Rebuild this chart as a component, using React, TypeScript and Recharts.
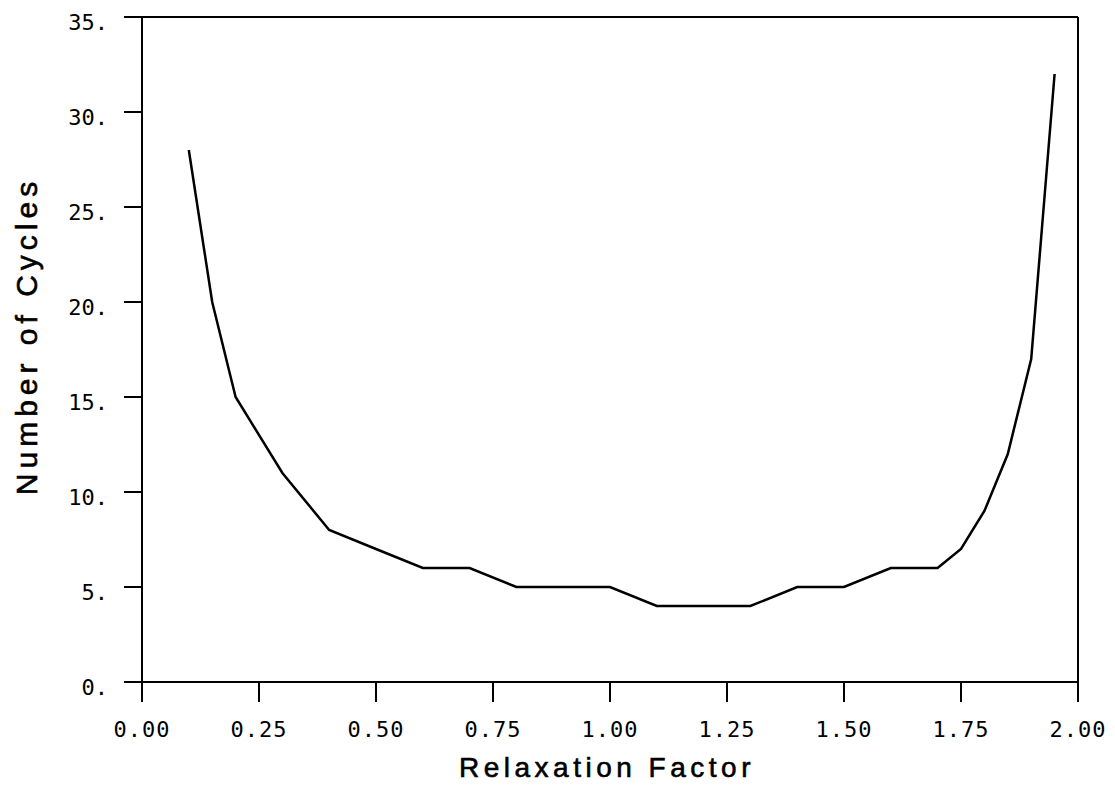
import React from 'react';
import { LineChart, Line, XAxis, YAxis, ReferenceLine, Label } from 'recharts';

const relaxationFactors = [0.1, 0.15, 0.2, 0.3, 0.4, 0.5, 0.6, 0.7, 0.8, 0.9, 1.0, 1.1, 1.2, 1.3, 1.4, 1.5, 1.6, 1.7, 1.75, 1.8, 1.85, 1.9, 1.95];
const cycles = [28, 20, 15, 11, 8, 7, 6, 6, 5, 5, 5, 4, 4, 4, 5, 5, 6, 6, 7, 9, 12, 17, 32];
const xTicks = [0, 0.25, 0.5, 0.75, 1.0, 1.25, 1.5, 1.75, 2.0];
const yTicks = [0, 5, 10, 15, 20, 25, 30, 35];

const data = relaxationFactors.map((x, i) => ({ x, y: cycles[i] }));

const tickFont = '"DejaVu Sans Mono", monospace';
const titleFont = '"Liberation Sans", Arial, sans-serif';

const XTick = (props: any) => {
  const { x, y, payload } = props;
  return (
    <text x={x} y={y + 33} textAnchor="middle" fontFamily={tickFont} fontSize={22} letterSpacing={1} fill="#000">
      {Number(payload.value).toFixed(2)}
    </text>
  );
};

const YTick = (props: any) => {
  const { x, y, payload } = props;
  return (
    <text x={x - 14} y={y + 13} textAnchor="end" fontFamily={tickFont} fontSize={22} fill="#000">
      {`${payload.value}.`}
    </text>
  );
};

export default function App() {
  return (
    <div style={{ position: 'absolute', left: 0, top: 0, background: '#fff' }}>
      <LineChart width={1115} height={786} data={data} margin={{ top: 17, right: 37, bottom: 74, left: 0 }}>
        <XAxis
          type="number"
          dataKey="x"
          domain={[0, 2]}
          ticks={xTicks}
          interval={0}
          height={30}
          tickSize={20}
          axisLine={{ stroke: '#000', strokeWidth: 2 }}
          tickLine={{ stroke: '#000', strokeWidth: 2 }}
          tick={<XTick />}
        >
          <Label
            content={() => (
              <text x={607} y={777} textAnchor="middle" fontFamily={titleFont} fontSize={28} letterSpacing={4.5} stroke="#000" strokeWidth={0.6} fill="#000">
                Relaxation Factor
              </text>
            )}
          />
        </XAxis>
        <YAxis
          type="number"
          width={142}
          domain={[0, 35]}
          ticks={yTicks}
          interval={0}
          tickSize={18}
          axisLine={{ stroke: '#000', strokeWidth: 2 }}
          tickLine={{ stroke: '#000', strokeWidth: 2 }}
          tick={<YTick />}
        >
          <Label
            content={() => (
              <text x={37} y={336} transform="rotate(-90 37 336)" textAnchor="middle" fontFamily={titleFont} fontSize={30} letterSpacing={5} stroke="#000" strokeWidth={0.6} fill="#000">
                Number of Cycles
              </text>
            )}
          />
        </YAxis>
        <ReferenceLine y={35} stroke="#000" strokeWidth={2} />
        <ReferenceLine x={2} stroke="#000" strokeWidth={2} />
        <Line
          type="linear"
          dataKey="y"
          stroke="#000"
          strokeWidth={2.5}
          dot={false}
          activeDot={false}
          isAnimationActive={false}
        />
      </LineChart>
    </div>
  );
}
